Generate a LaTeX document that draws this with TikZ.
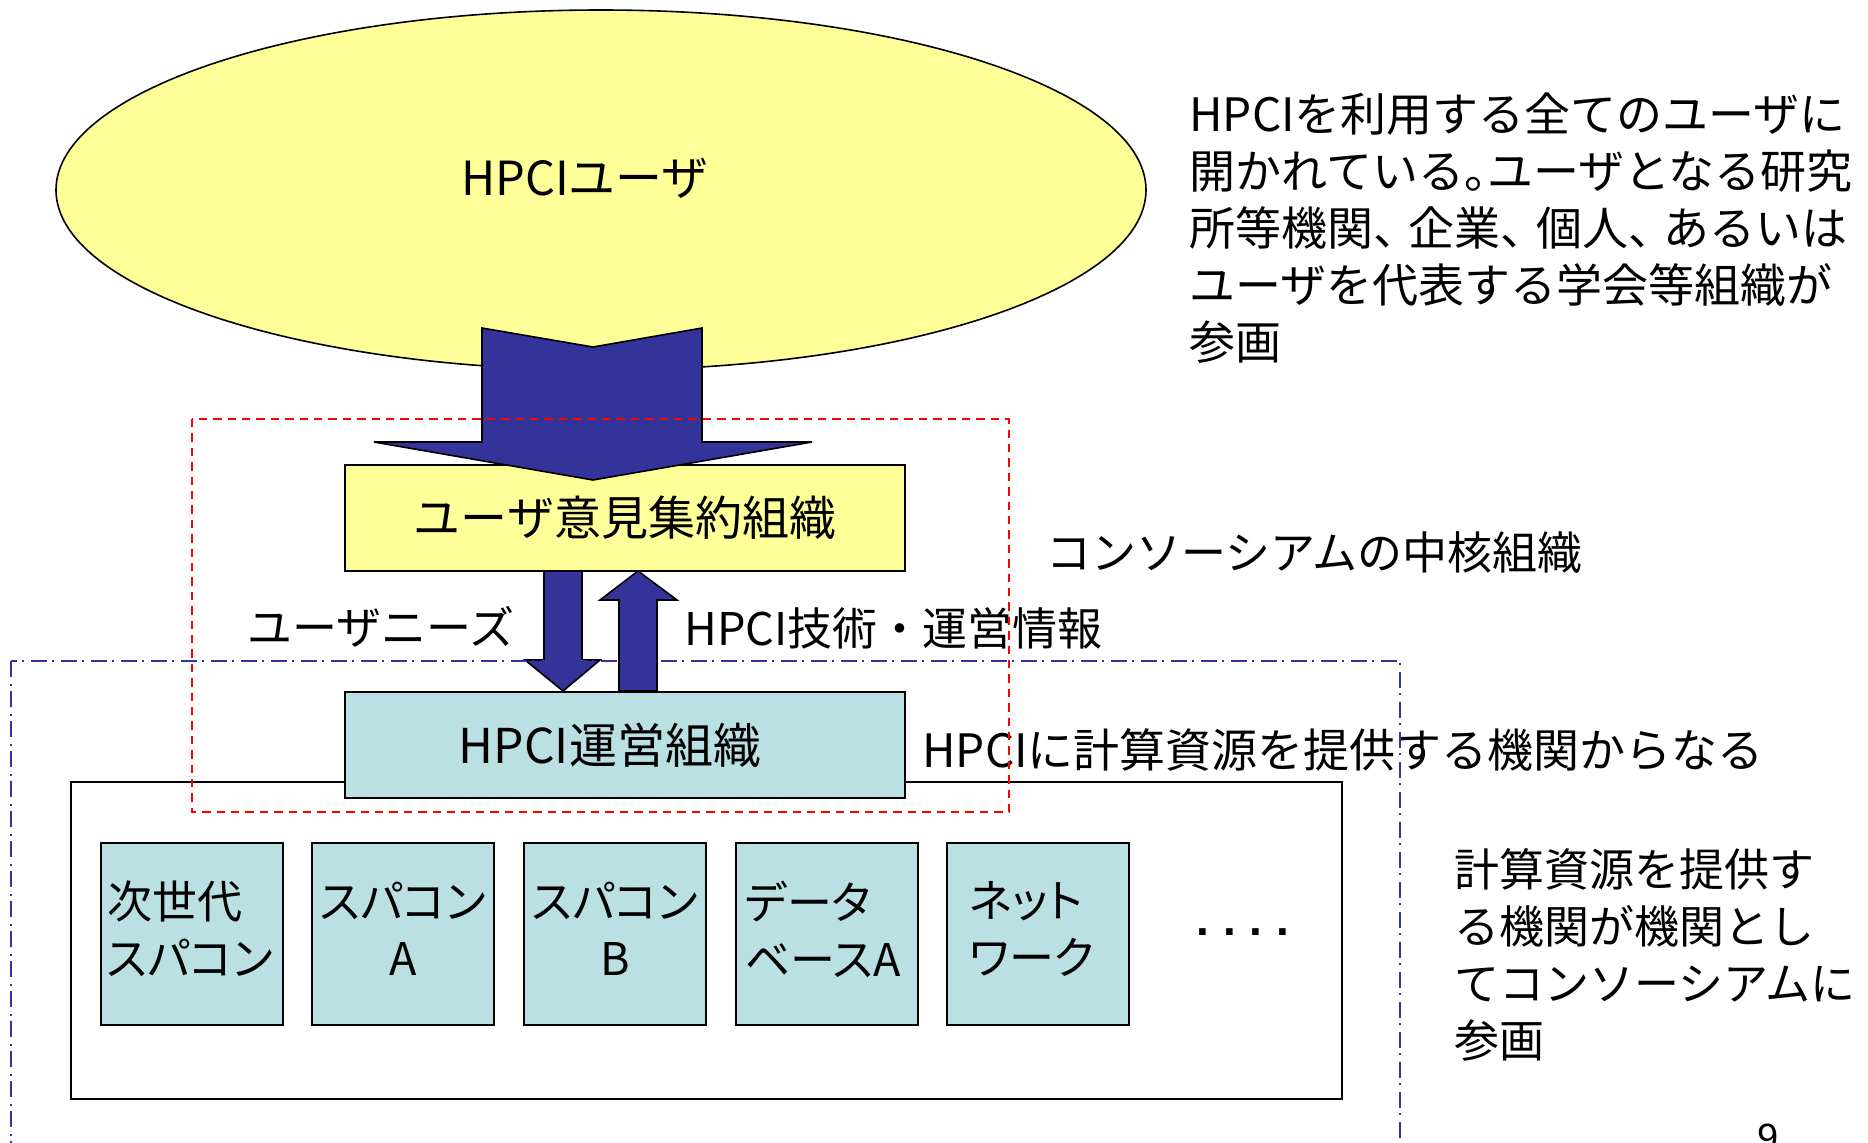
\documentclass[tikz,border=0pt]{standalone}
\usepackage{fontspec}
\setmainfont{Noto Sans CJK JP}
\newfontfamily\pj[RawFeature=+palt]{Noto Sans CJK JP}
\newfontfamily\lat{Liberation Sans}
\usetikzlibrary{shapes.geometric}
\definecolor{ylw}{HTML}{FFFF99}
\definecolor{cyn}{RGB}{187,224,227}
\definecolor{navy}{HTML}{333399}
\definecolor{redd}{HTML}{FF0000}
\newcommand\tten{、\kern-0.23em}
\newcommand\tmaru{。\kern-0.5em}
\tikzset{
  txt/.style={inner sep=0pt, font=\fontsize{22.5}{28.5}\selectfont},
  bigtxt/.style={inner sep=0pt, font=\fontsize{23}{28.5}\selectfont},
  boxtxt/.style={inner sep=0pt, font=\pj\fontsize{22.5}{28.5}\selectfont},
  blockarrow/.style={draw=black, line width=0.8pt, fill=navy, line join=miter},
  orgbox/.style={draw=black, line width=1pt, rectangle, inner sep=0pt},
  resbox/.style={draw=black, line width=1pt, fill=cyn, rectangle, minimum width=91pt, minimum height=91pt, inner sep=0pt},
  redbox/.style={draw=redd, line width=1pt, dash pattern=on 4.2pt off 3pt},
  bluebox/.style={draw=navy, line width=1pt, dash pattern=on 8pt off 3.5pt on 1pt off 2.5pt},
}
\begin{document}
\begin{tikzpicture}[x=0.5pt,y=-0.5pt]
\useasboundingbox (0,0) rectangle (1868,1142);
% user ellipse
\node[ellipse, draw=black, line width=0.8pt, fill=ylw, minimum width=545pt, minimum height=180pt, inner sep=0pt] (users) at (601,190) {};
\node[inner sep=0pt, font=\fontsize{23.5}{28.5}\selectfont] (userslabel) at (585,178) {HPCIユーザ};
% aggregation organisation
\node[orgbox, fill=ylw, minimum width=280pt, minimum height=53pt, font=\fontsize{23.5}{28.5}\selectfont] (agg) at (625,518) {ユーザ意見集約組織};
% big block arrow users -> agg
\draw[blockarrow] (482,328) -- (593,347) -- (702,328) -- (702,442) -- (812,442) -- (593,480) -- (374,442) -- (482,442) -- cycle;
% resource pool
\node[orgbox, minimum width=635.5pt, minimum height=158.5pt] (pool) at (706.5,940.5) {};
% operations organisation
\node[orgbox, fill=cyn, minimum width=280pt, minimum height=53pt, font=\fontsize{24}{28.5}\selectfont] (ops) at (625,745) {HPCI運営組織\kern15pt};
% small arrows
\draw[blockarrow] (544,571) -- (582,571) -- (582,660) -- (600,660) -- (563,691) -- (525,660) -- (544,660) -- cycle;
\draw[blockarrow] (619,691) -- (619,600) -- (600,600) -- (638,571) -- (677,600) -- (657,600) -- (657,691) -- cycle;
% resource boxes
\node[resbox] (r1) at (192,934) {};
\node[resbox] (r2) at (403,934) {};
\node[resbox] (r3) at (615,934) {};
\node[resbox] (r4) at (827,934) {};
\node[resbox] (r5) at (1038,934) {};
\node[boxtxt, align=left] (t1) at (190,929) {次世代\\スパコン};
\node[boxtxt, align=center] (t2) at (403,929) {スパコン\\A};
\node[boxtxt, align=center] (t3) at (615,929) {スパコン\\B};
\node[boxtxt, align=left] (t4) at (823,929) {データ\\ベースA};
\node[boxtxt, align=left] (t5) at (1032,929) {ネット\\ワーク};
\node[font=\lat\bfseries\fontsize{23}{23}\selectfont, inner sep=0pt] (dots) at (1243,932) {.\kern7pt.\kern7pt.\kern7pt.};
% labels
\node[txt] (needs) at (381,627) {ユーザニーズ};
\node[txt, anchor=west] (info) at (684,628) {HPCI技術・運営情報};
\node[txt, anchor=west] (core) at (1046,553) {コンソーシアムの中核組織};
\node[bigtxt, anchor=west] (prov) at (922,750) {HPCIに計算資源を提供する機関からなる};
\node[bigtxt, anchor=north west, align=left] (desc1) at (1189,92) {HPCIを利用する全てのユーザに\\開かれている\tmaru ユーザとなる研究\\所等機関\tten 企業\tten 個人\tten あるいは\\ユーザを代表する学会等組織が\\参画};
\node[txt, anchor=north west, align=left] (desc2) at (1454,848) {計算資源を提供す\\る機関が機関とし\\てコンソーシアムに\\参画};
\node[font=\lat\fontsize{19}{19}\selectfont, inner sep=0pt, anchor=base] (pg) at (1768,1150) {9};
% dashed frames
\draw[redbox] (192,419) rectangle (1009,812);
\draw[bluebox] (11,661) rectangle (1400,1180);
\end{tikzpicture}
\end{document}
